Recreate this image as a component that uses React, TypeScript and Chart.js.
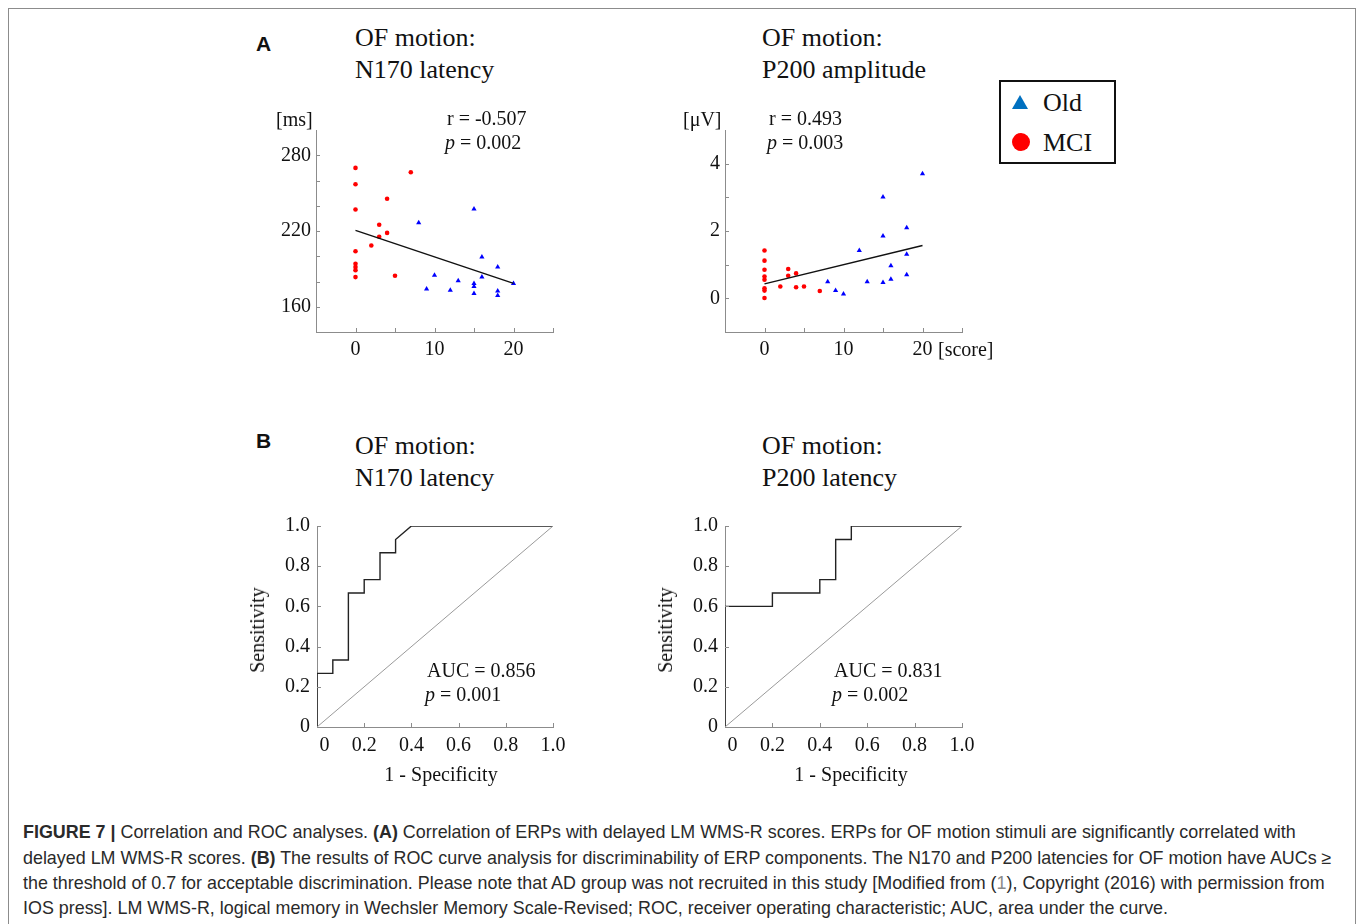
import React, { useEffect, useRef } from "react";
import { Chart, registerables } from "chart.js";

Chart.register(...registerables);

const SERIF = "'Liberation Serif', 'Times New Roman', Times, serif";
const SANS = "'Liberation Sans', Arial, Helvetica, sans-serif";

// ---------- Panel A: N170 latency vs delayed LM WMS-R score ----------
const mciScoreN170 = [0, 0, 0, 0, 0, 0, 0, 0, 2, 3, 3, 4, 4, 5, 7];
const mciN170 = [270, 257, 237, 204, 194, 191.5, 189, 183.5, 208.5, 225, 215.5, 245.5, 218.5, 184.5, 266.5];
const oldScoreN170 = [8, 9, 10, 12, 13, 15, 15, 15, 15, 16, 16, 18, 18, 18, 20];
const oldN170 = [226.5, 174, 185, 173, 180.5, 237.5, 178.5, 176, 170.5, 199.5, 183.5, 191.5, 172.5, 169, 178.5];
const fitScoreN170 = [0, 20];
const fitN170 = [220.5, 178.5];
const n170TickLabels = [160, 220, 280];

// ---------- Panel A: P200 amplitude vs delayed LM WMS-R score ----------
const mciScoreP200 = [0, 0, 0, 0, 0, 0, 0, 0, 2, 3, 3, 4, 4, 5, 7];
const mciP200 = [1.42, 1.12, 0.85, 0.65, 0.55, 0.3, 0.23, 0.01, 0.35, 0.87, 0.67, 0.74, 0.33, 0.35, 0.22];
const oldScoreP200 = [8, 9, 10, 12, 13, 15, 15, 15, 16, 16, 18, 18, 18, 20];
const oldP200 = [0.49, 0.23, 0.13, 1.42, 0.49, 3.01, 1.85, 0.47, 0.97, 0.57, 2.1, 1.31, 0.7, 3.7];
const fitScoreP200 = [0, 20];
const fitP200 = [0.43, 1.57];
const p200TickLabels = [0, 2, 4];

const scoreTickLabels = [0, 10, 20];

// ---------- Panel B: ROC curves ----------
const rocN170Fpr = [0, 0, 0.067, 0.067, 0.133, 0.133, 0.2, 0.2, 0.267, 0.267, 0.333, 0.333, 0.4, 1];
const rocN170Tpr = [0, 0.267, 0.267, 0.333, 0.333, 0.667, 0.667, 0.733, 0.733, 0.867, 0.867, 0.933, 1, 1];
const rocP200Fpr = [0, 0, 0.2, 0.2, 0.4, 0.4, 0.467, 0.467, 0.533, 0.533, 1];
const rocP200Tpr = [0, 0.6, 0.6, 0.667, 0.667, 0.733, 0.733, 0.933, 0.933, 1, 1];
const chanceLine = [0, 1];

const AXIS_GREY = "#8c8c8c";
const MCI_RED = "#ff0000";
const OLD_BLUE = "#0000ff";

const zip = (xs: number[], ys: number[]) => xs.map((x, i) => ({ x, y: ys[i] }));

const insideTicks = {
  id: "insideTicks",
  afterDraw(chart: any, _args: any, opts: any) {
    const { ctx, chartArea, scales } = chart;
    const len = 4;
    const xs = scales.x;
    const ys = scales.y;
    ctx.save();
    ctx.strokeStyle = AXIS_GREY;
    ctx.lineWidth = 1;
    ctx.beginPath();
    xs.ticks.forEach((t: any) => {
      if (Math.abs(t.value - xs.min) < 1e-9) return;
      const px = Math.round(xs.getPixelForValue(t.value)) + 0.5;
      ctx.moveTo(px, chartArea.bottom);
      ctx.lineTo(px, chartArea.bottom - len);
    });
    ys.ticks.forEach((t: any) => {
      if (Math.abs(t.value - ys.min) < 1e-9) return;
      if (opts && opts.skipYMax && Math.abs(t.value - ys.max) < 1e-9) return;
      const py = Math.round(ys.getPixelForValue(t.value)) + 0.5;
      ctx.moveTo(chartArea.left, py);
      ctx.lineTo(chartArea.left + len, py);
    });
    ctx.stroke();
    ctx.restore();
  },
};

const tickFont = { family: SERIF, size: 20 };

function baseScales(
  xMin: number, xMax: number, xStep: number, xLabel: (v: number) => string,
  yMin: number, yMax: number, yStep: number, yLabel: (v: number) => string,
  xPad: number, yPad: number
) {
  return {
    x: {
      type: "linear",
      min: xMin,
      max: xMax,
      ticks: { stepSize: xStep, autoSkip: false, maxRotation: 0, callback: (v: any) => xLabel(Number(v)), font: tickFont, color: "#111", padding: xPad },
      grid: { display: false, drawTicks: false },
      border: { display: true, color: AXIS_GREY, width: 1 },
      afterFit: (s: any) => { s.height = 40; },
    },
    y: {
      type: "linear",
      min: yMin,
      max: yMax,
      ticks: { stepSize: yStep, autoSkip: false, callback: (v: any) => yLabel(Number(v)), font: tickFont, color: "#111", padding: yPad },
      grid: { display: false, drawTicks: false },
      border: { display: true, color: AXIS_GREY, width: 1 },
      afterFit: (s: any) => { s.width = 70; },
    },
  };
}

const near = (a: number, b: number) => Math.abs(a - b) < 1e-6;

function scatterConfig(
  mx: number[], my: number[], ox: number[], oy: number[], fx: number[], fy: number[],
  yMin: number, yMax: number, yStep: number, yLabels: number[]
): any {
  return {
    type: "scatter",
    data: {
      datasets: [
        { label: "fit", data: zip(fx, fy), showLine: true, borderColor: "#111", borderWidth: 1.4, pointRadius: 0 },
        { label: "MCI", data: zip(mx, my), pointStyle: "circle", pointRadius: 2.3, backgroundColor: MCI_RED, borderWidth: 0 },
        { label: "Old", data: zip(ox, oy), pointStyle: "triangle", pointRadius: 3, backgroundColor: OLD_BLUE, borderColor: OLD_BLUE, borderWidth: 0 },
      ],
    },
    options: {
      responsive: false,
      animation: false,
      layout: { padding: { left: 0, top: 20, right: 20, bottom: 0 } },
      plugins: { legend: { display: false }, tooltip: { enabled: false }, insideTicks: { skipYMax: true } },
      scales: baseScales(
        -5, 25, 5, (v) => (scoreTickLabels.some((l) => near(l, v)) ? String(v) : ""),
        yMin, yMax, yStep, (v) => (yLabels.some((l) => near(l, v)) ? String(Math.round(v)) : ""),
        6, 5
      ),
    },
    plugins: [insideTicks],
  };
}

function rocConfig(fpr: number[], tpr: number[]): any {
  return {
    type: "scatter",
    data: {
      datasets: [
        { label: "chance", data: zip(chanceLine, chanceLine), showLine: true, borderColor: "#9a9a9a", borderWidth: 1, pointRadius: 0 },
        { label: "ROC", data: zip(fpr, tpr), showLine: true, borderColor: "#222", borderWidth: 1.4, pointRadius: 0 },
      ],
    },
    options: {
      responsive: false,
      animation: false,
      layout: { padding: { left: 0, top: 20, right: 20, bottom: 0 } },
      plugins: { legend: { display: false }, tooltip: { enabled: false }, insideTicks: { skipYMax: false } },
      scales: baseScales(
        0, 1, 0.2, (v) => (near(v, 0) ? "\u2007 0" : v.toFixed(1)),
        0, 1, 0.2, (v) => (near(v, 0) ? "0" : v.toFixed(1)),
        7, 7
      ),
    },
    plugins: [insideTicks],
  };
}

type TxtProps = { x: number; y: number; size?: number; family?: string; center?: boolean; bold?: boolean; children: any; style?: any };
const Txt = ({ x, y, size = 20, family = SERIF, center, bold, children, style }: TxtProps) => (
  <div
    style={{
      position: "absolute",
      left: x,
      top: y - size * 0.55,
      fontSize: size,
      lineHeight: `${size}px`,
      fontFamily: family,
      fontWeight: bold ? 700 : 400,
      whiteSpace: "nowrap",
      color: "#111",
      transform: center ? "translateX(-50%)" : undefined,
      ...style,
    }}
  >
    {children}
  </div>
);

const Rot = ({ x, y, children }: { x: number; y: number; children: any }) => (
  <div
    style={{
      position: "absolute",
      left: x,
      top: y,
      fontSize: 20,
      lineHeight: "20px",
      fontFamily: SERIF,
      whiteSpace: "nowrap",
      color: "#111",
      transform: "translate(-50%, -50%) rotate(-90deg)",
    }}
  >
    {children}
  </div>
);

export default function App() {
  const aLeft = useRef<HTMLCanvasElement>(null);
  const aRight = useRef<HTMLCanvasElement>(null);
  const bLeft = useRef<HTMLCanvasElement>(null);
  const bRight = useRef<HTMLCanvasElement>(null);

  useEffect(() => {
    const charts = [
      new Chart(aLeft.current as HTMLCanvasElement, scatterConfig(mciScoreN170, mciN170, oldScoreN170, oldN170, fitScoreN170, fitN170, 140, 300, 20, n170TickLabels)),
      new Chart(aRight.current as HTMLCanvasElement, scatterConfig(mciScoreP200, mciP200, oldScoreP200, oldP200, fitScoreP200, fitP200, -1, 5, 1, p200TickLabels)),
      new Chart(bLeft.current as HTMLCanvasElement, rocConfig(rocN170Fpr, rocN170Tpr)),
      new Chart(bRight.current as HTMLCanvasElement, rocConfig(rocP200Fpr, rocP200Tpr)),
    ];
    return () => charts.forEach((c) => c.destroy());
  }, []);

  const cv = (left: number, top: number, w: number, h: number) => ({ position: "absolute" as const, left, top, width: w, height: h });

  return (
    <div style={{ position: "fixed", left: 0, top: 0, width: 1358, height: 924, overflow: "hidden", background: "#fff" }}>
      <div style={{ position: "absolute", left: 8, top: 8, width: 1348, height: 960, border: `1px solid ${AXIS_GREY}`, boxSizing: "border-box" }} />

      <canvas ref={aLeft} width={327} height={262} style={cv(246, 110, 327, 262)} />
      <canvas ref={aRight} width={327} height={262} style={cv(655, 110, 327, 262)} />
      <canvas ref={bLeft} width={326} height={261} style={cv(247, 506, 326, 261)} />
      <canvas ref={bRight} width={327} height={261} style={cv(655, 506, 327, 261)} />

      {/* Panel A texts */}
      <Txt x={256} y={45} size={21} family={SANS} bold>A</Txt>
      <Txt x={355} y={39} size={26}>OF motion:</Txt>
      <Txt x={355} y={71} size={26}>N170 latency</Txt>
      <Txt x={762} y={39} size={26}>OF motion:</Txt>
      <Txt x={762} y={71} size={26}>P200 amplitude</Txt>

      <Txt x={276} y={120}>[ms]</Txt>
      <Txt x={447} y={119}>r = -0.507</Txt>
      <Txt x={445} y={143}><i>p</i> = 0.002</Txt>
      <Txt x={683} y={120}>[μV]</Txt>
      <Txt x={769} y={119}>r = 0.493</Txt>
      <Txt x={767} y={143}><i>p</i> = 0.003</Txt>
      <Txt x={938} y={350}>[score]</Txt>

      {/* Legend */}
      <div style={{ position: "absolute", left: 999, top: 80, width: 117, height: 84, border: "2px solid #111", boxSizing: "border-box" }} />
      <div style={{ position: "absolute", left: 1012, top: 95, width: 0, height: 0, borderLeft: "8px solid transparent", borderRight: "8px solid transparent", borderBottom: "14px solid #0070c0" }} />
      <div style={{ position: "absolute", left: 1012, top: 133, width: 18, height: 18, borderRadius: "50%", background: MCI_RED }} />
      <Txt x={1043} y={104} size={26}>Old</Txt>
      <Txt x={1043} y={144} size={26}>MCI</Txt>

      {/* Panel B texts */}
      <Txt x={256} y={442} size={21} family={SANS} bold>B</Txt>
      <Txt x={355} y={447} size={26}>OF motion:</Txt>
      <Txt x={355} y={479} size={26}>N170 latency</Txt>
      <Txt x={762} y={447} size={26}>OF motion:</Txt>
      <Txt x={762} y={479} size={26}>P200 latency</Txt>

      <Rot x={257} y={630}>Sensitivity</Rot>
      <Rot x={665} y={630}>Sensitivity</Rot>
      <Txt x={441} y={775} center>1 - Specificity</Txt>
      <Txt x={851} y={775} center>1 - Specificity</Txt>
      <Txt x={427} y={671}>AUC = 0.856</Txt>
      <Txt x={425} y={695}><i>p</i> = 0.001</Txt>
      <Txt x={834} y={671}>AUC = 0.831</Txt>
      <Txt x={832} y={695}><i>p</i> = 0.002</Txt>

      {/* Caption */}
      {[
        <>
          <b>FIGURE 7 |</b> Correlation and ROC analyses. <b>(A)</b> Correlation of ERPs with delayed LM WMS-R scores. ERPs for OF motion stimuli are significantly correlated with
        </>,
        <>
          delayed LM WMS-R scores. <b>(B)</b> The results of ROC curve analysis for discriminability of ERP components. The N170 and P200 latencies for OF motion have AUCs ≥
        </>,
        <>
          the threshold of 0.7 for acceptable discrimination. Please note that AD group was not recruited in this study [Modified from (<span style={{ color: "#8a8a8a" }}>1</span>), Copyright (2016) with permission from
        </>,
        <>IOS press]. LM WMS-R, logical memory in Wechsler Memory Scale-Revised; ROC, receiver operating characteristic; AUC, area under the curve.</>,
      ].map((line, i) => (
        <div
          key={i}
          style={{
            position: "absolute",
            left: 23,
            top: [832, 858, 883, 908][i] - 11,
            fontFamily: SANS,
            fontSize: 17.9,
            lineHeight: "22px",
            whiteSpace: "nowrap",
            color: "#2a2a2a",
          }}
        >
          {line}
        </div>
      ))}
    </div>
  );
}
